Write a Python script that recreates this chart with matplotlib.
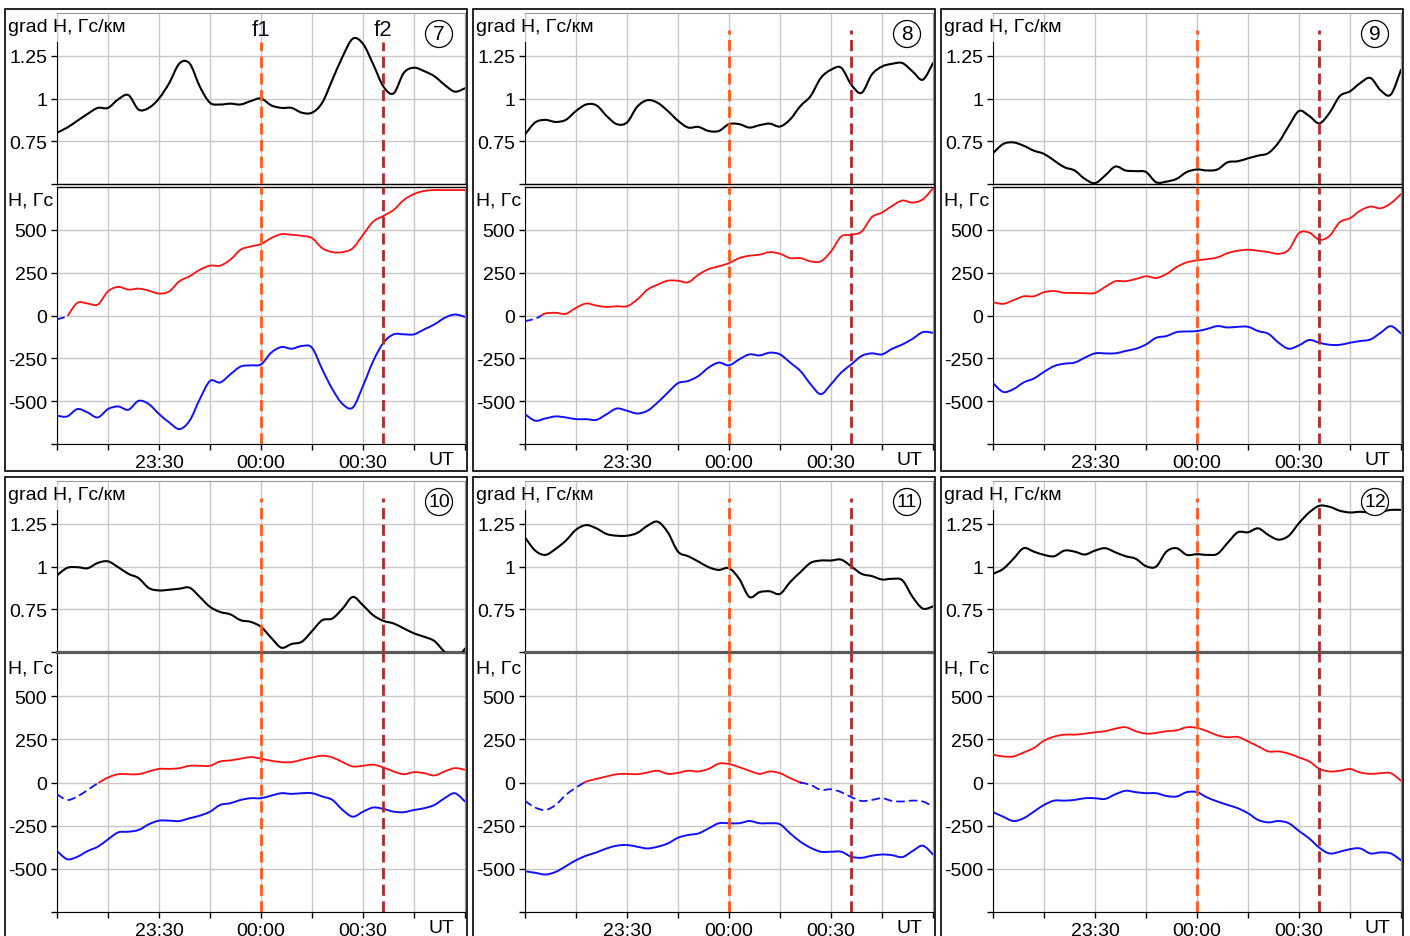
import numpy as np
import matplotlib
matplotlib.use('Agg')
import matplotlib.pyplot as plt
from matplotlib.patches import Rectangle, Ellipse, PathPatch
from matplotlib.path import Path
from matplotlib.transforms import blended_transform_factory

plt.rcParams['font.family'] = ['Liberation Sans', 'DejaVu Sans']

# sample times, minutes from 00:00 UT
minutes = list(range(-60, 61, 3))
f1_time = 0
f2_time = 36

# --- event 7 ---
grad_7 = [0.80, 0.83, 0.87, 0.91, 0.945, 0.945, 0.995, 1.02, 0.935, 0.945, 1.0,
          1.09, 1.205, 1.205, 1.07, 0.975, 0.965, 0.97, 0.965, 0.985, 1.0,
          0.96, 0.945, 0.945, 0.917, 0.917, 0.975, 1.11, 1.245, 1.35, 1.32,
          1.2, 1.07, 1.03, 1.15, 1.18, 1.16, 1.13, 1.08, 1.04, 1.06]
h_red_7 = [-23, -5, 74, 70, 64, 141, 167, 151, 157, 145, 128, 141, 200, 229,
           267, 291, 291, 326, 384, 403, 417, 452, 475, 471, 465, 452, 393,
           370, 370, 393, 471, 548, 581, 616, 674, 709, 727, 732, 732, 732, 732]
h_blue_7 = [-585, -589, -546, -566, -595, -546, -531, -550, -498, -517, -575,
            -624, -663, -614, -488, -382, -391, -343, -298, -291, -285, -217,
            -184, -194, -178, -188, -314, -430, -517, -537, -411, -266, -159,
            -110, -110, -110, -81, -52, -14, 6, -8]

# --- event 8 ---
grad_8 = [0.79, 0.86, 0.875, 0.863, 0.875, 0.927, 0.965, 0.96, 0.898, 0.85,
          0.86, 0.952, 0.99, 0.975, 0.927, 0.87, 0.83, 0.834, 0.81, 0.81, 0.85,
          0.85, 0.83, 0.844, 0.853, 0.836, 0.878, 0.956, 1.014, 1.12, 1.168,
          1.18, 1.08, 1.033, 1.14, 1.187, 1.203, 1.207, 1.158, 1.11, 1.207]
h_red_8 = [-33, -19, 12, 16, 10, 45, 70, 58, 50, 54, 54, 93, 151, 180, 203,
           203, 194, 238, 271, 287, 306, 335, 349, 355, 370, 360, 335, 335,
           316, 316, 374, 461, 471, 490, 574, 601, 640, 671, 659, 678, 742]
h_blue_8 = [-576, -614, -601, -589, -595, -605, -605, -609, -576, -543, -556,
            -572, -556, -508, -450, -395, -382, -353, -304, -275, -291, -256,
            -227, -233, -217, -227, -275, -324, -401, -459, -401, -333, -285,
            -236, -221, -227, -194, -169, -136, -97, -101]

# --- event 9 ---
grad_9 = [0.68, 0.734, 0.743, 0.724, 0.695, 0.676, 0.637, 0.598, 0.579, 0.53,
          0.505, 0.55, 0.602, 0.579, 0.575, 0.57, 0.51, 0.514, 0.53, 0.57,
          0.585, 0.579, 0.585, 0.627, 0.633, 0.65, 0.666, 0.681, 0.743, 0.84,
          0.927, 0.898, 0.855, 0.917, 1.014, 1.042, 1.09, 1.12, 1.048, 1.023,
          1.168]
h_red_9 = [78, 68, 89, 112, 112, 136, 143, 132, 132, 130, 132, 167, 200, 200,
           213, 229, 219, 242, 283, 310, 322, 329, 339, 364, 378, 384, 378,
           370, 360, 384, 481, 484, 442, 465, 545, 568, 612, 636, 626, 655, 709]
h_blue_9 = [-395, -446, -430, -391, -368, -329, -295, -281, -275, -246, -221,
            -221, -221, -207, -194, -169, -130, -120, -97, -93, -91, -78, -62,
            -70, -66, -66, -91, -107, -159, -194, -174, -143, -159, -171, -171,
            -159, -149, -140, -101, -62, -105]

# --- event 10 ---
grad_10 = [0.948, 0.992, 0.996, 0.99, 1.021, 1.03, 0.996, 0.957, 0.932, 0.874,
           0.86, 0.864, 0.87, 0.876, 0.822, 0.764, 0.734, 0.72, 0.686, 0.676,
           0.647, 0.583, 0.525, 0.547, 0.56, 0.622, 0.686, 0.696, 0.754, 0.822,
           0.773, 0.715, 0.682, 0.667, 0.638, 0.609, 0.589, 0.564, 0.50, 0.45,
           0.52]
h_red_10 = [-68, -101, -81, -43, -4, 29, 48, 48, 48, 64, 79, 79, 83, 97, 97,
            97, 122, 128, 138, 147, 138, 126, 118, 118, 132, 145, 155, 145,
            118, 93, 97, 103, 87, 64, 48, 60, 54, 41, 64, 83, 74]
h_blue_10 = [-397, -444, -430, -397, -372, -329, -289, -285, -275, -242, -221,
             -221, -223, -207, -192, -169, -130, -120, -101, -91, -91, -76, -62,
             -66, -62, -62, -81, -101, -159, -198, -169, -145, -153, -169, -172,
             -159, -149, -130, -91, -62, -110]

# --- event 11 ---
grad_11 = [1.17, 1.093, 1.068, 1.103, 1.151, 1.215, 1.242, 1.223, 1.19, 1.18,
           1.18, 1.196, 1.238, 1.262, 1.2, 1.087, 1.06, 1.029, 0.996, 0.98,
           0.99, 0.928, 0.822, 0.85, 0.855, 0.84, 0.909, 0.967, 1.021, 1.035,
           1.035, 1.04, 1.0, 0.957, 0.944, 0.924, 0.928, 0.919, 0.822, 0.754,
           0.767]
h_red_11 = [-107, -145, -159, -130, -72, -29, 6, 21, 35, 48, 50, 48, 58, 68,
            50, 56, 68, 64, 79, 109, 107, 89, 68, 50, 64, 54, 25, 0, -14, -43,
            -39, -56, -85, -107, -101, -91, -107, -110, -105, -110, -140]
h_blue_11 = [-514, -523, -533, -518, -485, -450, -424, -405, -382, -366, -362,
             -372, -382, -372, -353, -320, -304, -295, -266, -236, -236, -236,
             -223, -236, -236, -242, -295, -343, -378, -401, -401, -401, -430,
             -436, -424, -417, -421, -432, -397, -366, -417]

# --- event 12 ---
grad_12 = [0.957, 0.986, 1.045, 1.107, 1.087, 1.068, 1.06, 1.093, 1.087, 1.07,
           1.093, 1.107, 1.083, 1.06, 1.045, 1.002, 1.0, 1.087, 1.107, 1.068,
           1.072, 1.068, 1.074, 1.138, 1.2, 1.2, 1.223, 1.184, 1.157, 1.18,
           1.254, 1.316, 1.355, 1.349, 1.326, 1.316, 1.32, 1.316, 1.32, 1.331,
           1.331]
h_red_12 = [161, 151, 151, 174, 200, 242, 266, 277, 277, 283, 291, 297, 312,
            320, 297, 283, 287, 297, 302, 320, 316, 297, 273, 262, 264, 238,
            209, 180, 180, 167, 145, 122, 79, 64, 68, 78, 58, 50, 54, 54, 10]
h_blue_12 = [-172, -198, -223, -207, -169, -130, -105, -105, -101, -91, -91,
             -95, -68, -48, -56, -62, -62, -78, -81, -56, -56, -87, -110, -130,
             -149, -178, -217, -231, -223, -236, -281, -324, -378, -411, -401,
             -386, -382, -411, -405, -411, -450]

panels = [
    ('7', grad_7, h_red_7, h_blue_7),
    ('8', grad_8, h_red_8, h_blue_8),
    ('9', grad_9, h_red_9, h_blue_9),
    ('10', grad_10, h_red_10, h_blue_10),
    ('11', grad_11, h_red_11, h_blue_11),
    ('12', grad_12, h_red_12, h_blue_12),
]

F1_COLOR = '#ff5a14'
F2_COLOR = '#b0282a'
GRID = '#c8c8c8'
FS = 14

W, H = 1410, 937
fig = plt.figure(figsize=(W / 100, H / 100), dpi=100)


def fbox(x0, y0, x1, y1):
    """pixel box (top-left origin) -> figure fraction rect"""
    return [x0 / W, 1 - y1 / H, (x1 - x0) / W, (y1 - y0) / H]


def smooth_path(xs, ys):
    """Bezier path through the samples (Catmull-Rom tangents)"""
    pts = np.column_stack([xs, ys]).astype(float)
    n = len(pts)
    verts, codes = [pts[0]], [Path.MOVETO]
    for i in range(n - 1):
        p0 = pts[i - 1] if i > 0 else pts[i]
        p1, p2 = pts[i], pts[i + 1]
        p3 = pts[i + 2] if i + 2 < n else pts[i + 1]
        verts += [p1 + (p2 - p0) / 6, p2 - (p3 - p1) / 6, p2]
        codes += [Path.CURVE4] * 3
    return Path(verts, codes)


def draw_curve(ax, xs, ys, **kw):
    ax.add_patch(PathPatch(smooth_path(xs, ys), fill=False,
                           capstyle='round', joinstyle='round', zorder=3, **kw))


def split_by_sign(t, y):
    """cut a series at its zero crossings, keep sign of each piece"""
    pieces = []
    pos = y[0] >= 0
    xs, ys = [t[0]], [y[0]]
    for i in range(1, len(t)):
        s = y[i] >= 0
        if s != pos:
            tc = t[i - 1] + (t[i] - t[i - 1]) * (-y[i - 1]) / (y[i] - y[i - 1])
            xs.append(tc)
            ys.append(0)
            pieces.append((pos, xs, ys))
            xs, ys = [tc], [0]
            pos = s
        xs.append(t[i])
        ys.append(y[i])
    pieces.append((pos, xs, ys))
    return pieces


def style_axes(ax):
    ax.set_xlim(-60, 60)
    ax.set_xticks(range(-60, 61, 15))
    ax.grid(True, color=GRID, lw=1)
    ax.set_axisbelow(True)
    ax.tick_params(direction='out', length=4, width=1, labelsize=FS, pad=3)
    ax.spines['right'].set_color('#9a9a9a')
    ax.spines['left'].set_color('black')


col_x = [5, 473, 941]
row_y = [10, 478]

for k, (num, grad, h_red, h_blue) in enumerate(panels):
    row, col = divmod(k, 3)
    px, py = col_x[col], row_y[row]
    ax_l, ax_r = px + 52, px + 460
    if row == 0:
        sep_color, sep_lw, gap = 'black', 1.0, 3
    else:
        sep_color, sep_lw, gap = '#5a5a5a', 1.6, 1

    # panel frame
    fig.add_artist(Rectangle((px / W, 1 - (py + 462) / H), 462 / W, 462 / H,
                             transform=fig.transFigure, fill=False,
                             ec='black', lw=1.2))

    # gradient
    ax1 = fig.add_axes(fbox(ax_l, py + 4, ax_r, py + 175))
    style_axes(ax1)
    ax1.set_ylim(0.5, 1.5)
    ax1.set_yticks([0.5, 0.75, 1.0, 1.25])
    ax1.set_yticklabels(['', '0.75', '1', '1.25'])
    ax1.tick_params(axis='x', length=0, labelbottom=False)
    ax1.spines['top'].set_color('#9a9a9a')
    ax1.spines['bottom'].set_color(sep_color)
    ax1.spines['bottom'].set_linewidth(sep_lw)
    ax1.spines['left'].set_bounds(0.5, 1.33)
    draw_curve(ax1, minutes, grad, ec='black', lw=1.5)
    f_top = 0.83 if num == '7' else 0.9
    ax1.axvline(f1_time, ymax=f_top, color=F1_COLOR, lw=2, ls=(0, (4, 2)), zorder=4)
    ax1.axvline(f2_time, ymax=f_top, color=F2_COLOR, lw=2, ls=(0, (4, 2)), zorder=4)

    # field components
    ax2 = fig.add_axes(fbox(ax_l, py + 175 + gap, ax_r, py + 435))
    style_axes(ax2)
    ax2.set_ylim(-750, 750)
    ax2.set_yticks([-750, -500, -250, 0, 250, 500])
    ax2.set_yticklabels(['', '-500', '-250', '0', '250', '500'])
    ax2.set_xticklabels(['', '', '23:30', '', '00:00', '', '00:30', '', ''])
    ax2.spines['top'].set_color(sep_color)
    ax2.spines['top'].set_linewidth(sep_lw)
    for pos, xs, ys in split_by_sign(minutes, h_red):
        if pos:
            draw_curve(ax2, xs, ys, ec='#ff1010', lw=1.3)
        else:
            draw_curve(ax2, xs, ys, ec='#1010ff', lw=1.3, ls=(0, (4, 3)))
    draw_curve(ax2, minutes, h_blue, ec='#1010ff', lw=1.4)
    ax2.axvline(f1_time, color=F1_COLOR, lw=2, ls=(0, (4, 2)), zorder=4)
    ax2.axvline(f2_time, color=F2_COLOR, lw=2, ls=(0, (4, 2)), zorder=4)

    tr = blended_transform_factory(ax2.transData, fig.transFigure)
    ax2.text(53, 1 - (py + 451) / H, 'UT', transform=tr, ha='center',
             va='center', fontsize=FS)

    # axis captions and event number
    fig.text((px + 3) / W, 1 - (py + 17) / H, 'grad H, Гс/км', fontsize=FS,
             ha='left', va='center')
    fig.text((px + 3) / W, 1 - (py + 191) / H, 'H, Гс', fontsize=FS,
             ha='left', va='center')
    cx, cy = (px + 434) / W, 1 - (py + 25) / H
    fig.add_artist(Ellipse((cx, cy), 27 / W, 27 / H, transform=fig.transFigure,
                           fc='white', ec='black', lw=0.9, zorder=5))
    fig.text(cx, cy, num, fontsize=FS + 1 if len(num) == 1 else FS,
             ha='center', va='center', zorder=6)

    if num == '7':
        tr1 = blended_transform_factory(ax1.transData, fig.transFigure)
        ax1.text(f1_time, 1 - (py + 20) / H, 'f1', transform=tr1, ha='center',
                 va='center', fontsize=FS + 2, color='#111122')
        ax1.text(f2_time, 1 - (py + 20) / H, 'f2', transform=tr1, ha='center',
                 va='center', fontsize=FS + 2, color='#111122')

fig.savefig('out.png', dpi=100)
